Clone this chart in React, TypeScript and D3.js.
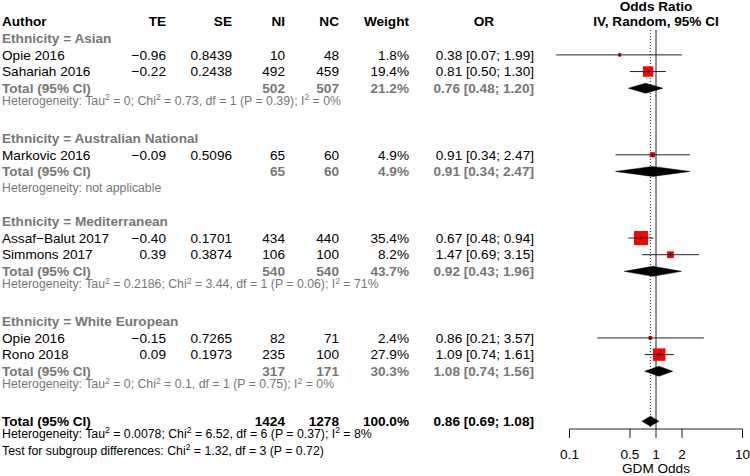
import React from "react";
import * as d3 from "d3";

// ---------- data ----------
const groupNames = ["Asian", "Australian National", "Mediterranean", "White European"];
const studyAuthor = ["Opie 2016", "Sahariah 2016", "Markovic 2016", "Assaf\u2212Balut 2017", "Simmons 2017", "Opie 2016", "Rono 2018"];
const studyGroup = [0, 0, 1, 2, 2, 3, 3];
const studyTE = [-0.96, -0.22, -0.09, -0.4, 0.39, -0.15, 0.09];
const studySE = [0.8439, 0.2438, 0.5096, 0.1701, 0.3874, 0.7265, 0.1973];
const studyNI = [10, 492, 65, 434, 106, 82, 235];
const studyNC = [48, 459, 60, 440, 100, 71, 100];
const studyWeight = [1.8, 19.4, 4.9, 35.4, 8.2, 2.4, 27.9];
const studyOR = [0.38, 0.81, 0.91, 0.67, 1.47, 0.86, 1.09];
const studyLower = [0.07, 0.5, 0.34, 0.48, 0.69, 0.21, 0.74];
const studyUpper = [1.99, 1.3, 2.47, 0.94, 3.15, 3.57, 1.61];

const groupNI = [502, 65, 540, 317];
const groupNC = [507, 60, 540, 171];
const groupWeight = [21.2, 4.9, 43.7, 30.3];
const groupOR = [0.76, 0.91, 0.92, 1.08];
const groupLower = [0.48, 0.34, 0.43, 0.74];
const groupUpper = [1.2, 2.47, 1.96, 1.56];
const groupTau2 = ["0", null, "0.2186", "0"];
const groupChi2 = ["0.73", null, "3.44", "0.1"];
const groupDf = [1, null, 1, 1];
const groupP = ["0.39", null, "0.06", "0.75"];
const groupI2 = ["0%", null, "71%", "0%"];

const totalNI = 1424;
const totalNC = 1278;
const totalWeight = 100.0;
const totalOR = 0.86;
const totalLower = 0.69;
const totalUpper = 1.08;
const totalTau2 = "0.0078";
const totalChi2 = "6.52";
const totalDf = 6;
const totalP = "0.37";
const totalI2 = "8%";
const testChi2 = "1.32";
const testDf = 3;
const testP = "0.72";

const axisTicks = [0.1, 0.5, 1, 2, 10];
const axisLabel = "GDM Odds";

// ---------- layout ----------
const W = 750;
const H = 476;
const FONT = "'Liberation Sans', Arial, Helvetica, sans-serif";
const FS = 13.6;
const FS_HET = 12.3;
const GREY = "#777777";
const row0 = 21.6;
const rowH = 16.65;
const rowY = (i: number) => row0 + rowH * i;

const colAuthor = 2;
const colTE = 166;
const colSE = 232;
const colNI = 285;
const colNC = 339;
const colW = 409;
const colOR = 534;
const colORHead = 484;

const x = d3.scaleLog().domain([0.1, 10]).range([569.5, 742.5]);
const fmt2 = d3.format(".2f");
const fmtCI = (e: number, l: number, u: number) => `${fmt2(e)} [${fmt2(l)}; ${fmt2(u)}]`;
const fmtW = (w: number) => `${w.toFixed(1)}%`;

type Seg = { t: string; sup?: boolean };
function hetSegs(tau: string, chi: string, df: number, p: string, i2: string): Seg[] {
  return [
    { t: "Heterogeneity: Tau" }, { t: "2", sup: true },
    { t: ` = ${tau}; Chi` }, { t: "2", sup: true },
    { t: ` = ${chi}, df = ${df} (P = ${p}); I` }, { t: "2", sup: true },
    { t: ` = ${i2}` },
  ];
}

function SegText({ x0, y, segs, fill }: { x0: number; y: number; segs: Seg[]; fill: string }) {
  const out: any[] = [];
  let prevSup = false;
  segs.forEach((s, k) => {
    if (s.sup) {
      out.push(<tspan key={k} dy={-4.4} fontSize={FS_HET * 0.7}>{s.t}</tspan>);
      prevSup = true;
    } else {
      out.push(<tspan key={k} dy={prevSup ? 4.4 : 0}>{s.t}</tspan>);
      prevSup = false;
    }
  });
  return (
    <text x={x0} y={y} dy="0.35em" fontSize={FS_HET} fill={fill} fontFamily={FONT}>
      {out}
    </text>
  );
}

type Row =
  | { kind: "group"; g: number }
  | { kind: "study"; s: number }
  | { kind: "gtotal"; g: number }
  | { kind: "ghet"; g: number }
  | { kind: "blank" }
  | { kind: "total" }
  | { kind: "thet" }
  | { kind: "test" };

function buildRows(): Row[] {
  const rows: Row[] = [];
  groupNames.forEach((_, g) => {
    rows.push({ kind: "group", g });
    studyAuthor.forEach((_, s) => {
      if (studyGroup[s] === g) rows.push({ kind: "study", s });
    });
    rows.push({ kind: "gtotal", g });
    rows.push({ kind: "ghet", g });
    rows.push({ kind: "blank" });
  });
  rows.push({ kind: "total" });
  rows.push({ kind: "thet" });
  rows.push({ kind: "test" });
  return rows;
}

export default function App() {
  const rows = buildRows();
  const axisY = 429;
  const lineTop = 30;
  const txt = (xx: number, y: number, s: string, opts: any = {}) => (
    <text
      x={xx}
      y={y}
      dy="0.35em"
      fontSize={opts.fs ?? FS}
      fontWeight={opts.bold ? "bold" : "normal"}
      textAnchor={opts.anchor ?? "end"}
      fill={opts.fill ?? "#000"}
      fontFamily={FONT}
    >
      {s}
    </text>
  );

  const diamond = (y: number, e: number, l: number, u: number, key: string) => (
    <polygon
      key={key}
      points={`${x(l)},${y} ${x(e)},${y - 5} ${x(u)},${y} ${x(e)},${y + 5}`}
      fill="#000"
      stroke="#000"
      strokeWidth={0.5}
    />
  );

  const elems: any[] = [];
  rows.forEach((r, idx) => {
    const y = rowY(idx + 1);
    if (r.kind === "group") {
      elems.push(<g key={idx}>{txt(colAuthor, y, `Ethnicity = ${groupNames[r.g]}`, { anchor: "start", bold: true, fill: GREY })}</g>);
    } else if (r.kind === "study") {
      const s = r.s;
      const side = 2.36 * Math.sqrt(studyWeight[s]);
      const cx = x(studyOR[s]);
      elems.push(
        <g key={idx}>
          {txt(colAuthor, y, studyAuthor[s], { anchor: "start" })}
          {txt(colTE, y, fmt2(studyTE[s]))}
          {txt(colSE, y, studySE[s].toFixed(4))}
          {txt(colNI, y, String(studyNI[s]))}
          {txt(colNC, y, String(studyNC[s]))}
          {txt(colW, y, fmtW(studyWeight[s]))}
          {txt(colOR, y, fmtCI(studyOR[s], studyLower[s], studyUpper[s]))}
          <rect x={cx - side / 2} y={y - side / 2} width={side} height={side} fill="#ff0000" />
          <line x1={x(studyLower[s])} x2={x(studyUpper[s])} y1={y} y2={y} stroke="#222" strokeWidth={1} />
          <line x1={cx} x2={cx} y1={y - 2} y2={y + 2} stroke="#222" strokeWidth={1} />
        </g>
      );
    } else if (r.kind === "gtotal") {
      const g = r.g;
      elems.push(
        <g key={idx}>
          {txt(colAuthor, y, "Total (95% CI)", { anchor: "start", bold: true, fill: GREY })}
          {txt(colNI, y, String(groupNI[g]), { bold: true, fill: GREY })}
          {txt(colNC, y, String(groupNC[g]), { bold: true, fill: GREY })}
          {txt(colW, y, fmtW(groupWeight[g]), { bold: true, fill: GREY })}
          {txt(colOR, y, fmtCI(groupOR[g], groupLower[g], groupUpper[g]), { bold: true, fill: GREY })}
          {diamond(y, groupOR[g], groupLower[g], groupUpper[g], "d")}
        </g>
      );
    } else if (r.kind === "ghet") {
      const g = r.g;
      if (groupTau2[g] === null) {
        elems.push(<g key={idx}>{txt(colAuthor, y, "Heterogeneity: not applicable", { anchor: "start", fs: FS_HET, fill: GREY })}</g>);
      } else {
        elems.push(
          <SegText key={idx} x0={colAuthor} y={y} fill={GREY}
            segs={hetSegs(groupTau2[g] as string, groupChi2[g] as string, groupDf[g] as number, groupP[g] as string, groupI2[g] as string)} />
        );
      }
    } else if (r.kind === "total") {
      elems.push(
        <g key={idx}>
          {txt(colAuthor, y, "Total (95% CI)", { anchor: "start", bold: true })}
          {txt(colNI, y, String(totalNI), { bold: true })}
          {txt(colNC, y, String(totalNC), { bold: true })}
          {txt(colW, y, fmtW(totalWeight), { bold: true })}
          {txt(colOR, y, fmtCI(totalOR, totalLower, totalUpper), { bold: true })}
          {diamond(y, totalOR, totalLower, totalUpper, "d")}
        </g>
      );
    } else if (r.kind === "thet") {
      elems.push(<SegText key={idx} x0={colAuthor} y={y} fill="#000" segs={hetSegs(totalTau2, totalChi2, totalDf, totalP, totalI2)} />);
    } else if (r.kind === "test") {
      elems.push(
        <SegText key={idx} x0={colAuthor} y={y} fill="#000"
          segs={[{ t: "Test for subgroup differences: Chi" }, { t: "2", sup: true }, { t: ` = ${testChi2}, df = ${testDf} (P = ${testP})` }]} />
      );
    }
  });

  const hy = rowY(0);
  return (
    <div style={{ position: "absolute", left: 0, top: 0 }}>
      <svg width={W} height={H} style={{ display: "block", background: "#fff" }}>
        {/* header */}
        {txt(colAuthor, hy, "Author", { anchor: "start", bold: true })}
        {txt(colTE, hy, "TE", { bold: true })}
        {txt(colSE, hy, "SE", { bold: true })}
        {txt(colNI, hy, "NI", { bold: true })}
        {txt(colNC, hy, "NC", { bold: true })}
        {txt(colW, hy, "Weight", { bold: true })}
        {txt(colORHead, hy, "OR", { bold: true, anchor: "middle" })}
        {txt(x(1), 6, "Odds Ratio", { bold: true, anchor: "middle" })}
        {txt(x(1), hy, "IV, Random, 95% CI", { bold: true, anchor: "middle" })}

        {/* reference lines */}
        <line x1={x(1)} x2={x(1)} y1={lineTop} y2={axisY} stroke="#222" strokeWidth={1} />
        <line x1={x(totalOR)} x2={x(totalOR)} y1={lineTop} y2={axisY} stroke="#222" strokeWidth={1} strokeDasharray="1,2" />

        {elems}

        {/* axis */}
        <line x1={x(0.1)} x2={x(10)} y1={axisY} y2={axisY} stroke="#222" strokeWidth={1} />
        {axisTicks.map((t) => (
          <g key={t}>
            <line x1={x(t)} x2={x(t)} y1={axisY} y2={axisY + 9} stroke="#222" strokeWidth={1} />
            {txt(x(t), rowY(26), String(t), { anchor: "middle" })}
          </g>
        ))}
        {txt(x(1), 468.5, axisLabel, { anchor: "middle" })}
      </svg>
    </div>
  );
}
